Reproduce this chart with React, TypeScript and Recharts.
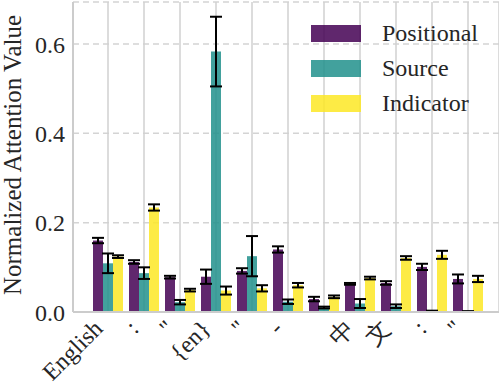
import React from "react";
import { Bar, BarChart, CartesianGrid, ErrorBar, XAxis, YAxis } from "recharts";

const categories = ["English", ":", "\"", "{en}", "\"", "-", " ", "中", "文", ":", "\""];
const positional = [0.16, 0.112, 0.078, 0.079, 0.092, 0.14, 0.029, 0.063, 0.065, 0.101, 0.074];
const positionalErr = [0.006, 0.004, 0.003, 0.016, 0.006, 0.007, 0.005, 0.002, 0.004, 0.007, 0.01];
const source = [0.109, 0.087, 0.022, 0.583, 0.125, 0.023, 0.01, 0.019, 0.013, 0.002, 0.001];
const sourceErr = [0.022, 0.013, 0.005, 0.078, 0.045, 0.005, 0.002, 0.01, 0.004, 0.001, 0.001];
const indicator = [0.124, 0.234, 0.049, 0.048, 0.053, 0.06, 0.034, 0.076, 0.121, 0.128, 0.074];
const indicatorErr = [0.003, 0.007, 0.003, 0.009, 0.007, 0.005, 0.003, 0.003, 0.004, 0.009, 0.007];
const yTicks = [0, 0.2, 0.4, 0.6];

const series = [
  { key: "positional", name: "Positional", color: "#440154" },
  { key: "source", name: "Source", color: "#21918c" },
  { key: "indicator", name: "Indicator", color: "#fde725" },
];

const data = categories.map((c, i) => ({
  idx: i,
  label: c,
  positional: positional[i],
  positionalErr: positionalErr[i],
  source: source[i],
  sourceErr: sourceErr[i],
  indicator: indicator[i],
  indicatorErr: indicatorErr[i],
}));

const FONT = "'Liberation Serif', 'Times New Roman', serif";

const XTick = ({ x, y, payload }: any) => {
  const tx = x - 4;
  const ty = y + 18;
  return (
    <text
      x={tx}
      y={ty}
      textAnchor="end"
      transform={`rotate(-45, ${tx}, ${ty})`}
      style={{ fontFamily: FONT, fontSize: 24, fill: "#262626" }}
    >
      {categories[payload.value]}
    </text>
  );
};

export default function App() {
  return (
    <div style={{ position: "relative", width: 499, height: 386, background: "#fff" }}>
      <style>{"body{margin:0}"}</style>
      <BarChart
        width={499}
        height={386}
        data={data}
        margin={{ top: 2, right: 0, left: 0, bottom: 0 }}
        barGap={0}
      >
        <CartesianGrid horizontal={true} vertical={false} stroke="#d4d4d4" strokeWidth={1.5} strokeDasharray="6 4" />
        <CartesianGrid horizontal={false} vertical={true} stroke="#d0d0d0" strokeWidth={1.5} />
        <XAxis
          dataKey="idx"
          type="category"
          height={74}
          tick={<XTick />}
          tickLine={false}
          tickSize={0}
          tickMargin={0}
          interval={0}
          padding={{ left: 17, right: 13 }}
          axisLine={{ stroke: "#cccccc", strokeWidth: 2 }}
        />
        <YAxis
          width={73}
          domain={[0, 0.694]}
          ticks={yTicks}
          tickFormatter={(v: number) => v.toFixed(1)}
          tickLine={false}
          tickSize={0}
          tickMargin={8}
          axisLine={{ stroke: "#cccccc", strokeWidth: 2 }}
          tick={{ style: { fontFamily: FONT, fontSize: 24 }, fill: "#262626" }}
          label={{
            content: () => (
              <text
                x={21}
                y={155}
                transform="rotate(-90, 21, 155)"
                textAnchor="middle"
                style={{ fontFamily: FONT, fontSize: 25, fill: "#262626" }}
              >
                Normalized Attention Value
              </text>
            ),
          }}
        />
        {series.map((s) => (
          <Bar
            key={s.key}
            dataKey={s.key}
            name={s.name}
            fill={s.color}
            fillOpacity={0.85}
            barSize={10}
            isAnimationActive={false}
          >
            <ErrorBar dataKey={`${s.key}Err`} width={6} stroke="#000" strokeWidth={2} />
          </Bar>
        ))}
      </BarChart>
      <div
        style={{
          position: "absolute",
          top: 16,
          left: 311,
          fontFamily: FONT,
          fontSize: 24,
          color: "#262626",
        }}
      >
        {series.map((s) => (
          <div key={s.key} style={{ display: "flex", alignItems: "center", height: 35 }}>
            <div style={{ width: 50, height: 17, background: s.color, opacity: 0.85 }} />
            <span style={{ marginLeft: 21 }}>{s.name}</span>
          </div>
        ))}
      </div>
    </div>
  );
}
